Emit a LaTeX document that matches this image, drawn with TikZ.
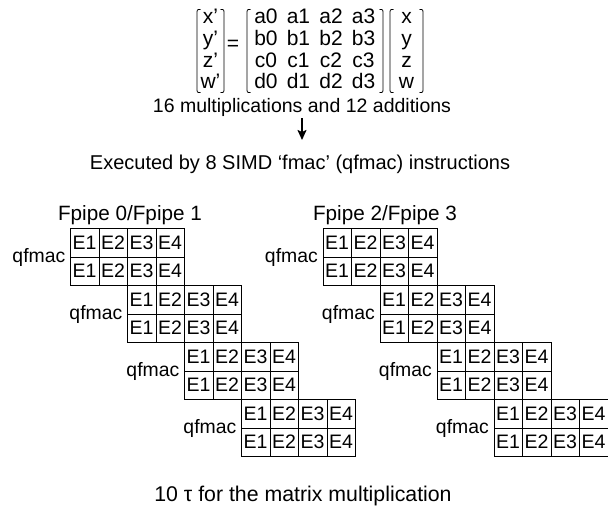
\documentclass[tikz,border=0pt]{standalone}
\usepackage{fontspec}
\setmainfont{Liberation Sans}
\usetikzlibrary{arrows.meta}
\begin{document}
\begin{tikzpicture}[x=1pt,y=-1pt,
  txt/.style={inner sep=0pt,anchor=base,font=\fontsize{19.5}{24}\selectfont},
  exs/.style={inner sep=0pt,anchor=base,font=\fontsize{20}{24}\selectfont},
  bot/.style={inner sep=0pt,anchor=base,font=\fontsize{21.3}{24}\selectfont},
  mtx/.style={inner sep=0pt,anchor=base,font=\fontsize{21}{24}\selectfont},
  fp/.style={inner sep=0pt,anchor=base,font=\fontsize{20.7}{24}\selectfont},
  cell/.style={draw,line width=0.8pt,minimum width=28.5pt,minimum height=28.5pt,inner sep=0pt,anchor=north west,font=\fontsize{19.5}{22}\selectfont},
  lbl/.style={inner sep=0pt,anchor=base east,font=\fontsize{19.4}{22}\selectfont},
  brk/.style={line width=0.8pt},
]
\useasboundingbox (0,0) rectangle (608,508);
% matrix equation
\foreach \r/\a/\p/\q/\s/\t/\b [count=\i] in {23.5/x’/a0/a1/a2/a3/x, 45.4/y’/b0/b1/b2/b3/y, 67.2/z’/c0/c1/c2/c3/z, 89/w’/d0/d1/d2/d3/w}{
  \node[mtx] (v\i) at (210.5,\r) {\a};
  \node[mtx] (m\i a) at (266,\r) {\p};
  \node[mtx] (m\i b) at (298.5,\r) {\q};
  \node[mtx] (m\i c) at (331,\r) {\s};
  \node[mtx] (m\i d) at (363.5,\r) {\t};
  \node[mtx] (u\i) at (406.5,\r) {\b};
}
\node[mtx] (eq) at (233,50.5) {=};
% brackets
\foreach \xl/\xr in {197/224, 247/383, 390/423}{
  \draw[brk] (\xl+3.5,9.5) .. controls (\xl,9.5) .. (\xl,14) -- (\xl,88) .. controls (\xl,92.5) .. (\xl+3.5,92.5);
  \draw[brk] (\xr-3.5,9.5) .. controls (\xr,9.5) .. (\xr,14) -- (\xr,88) .. controls (\xr,92.5) .. (\xr-3.5,92.5);
}
\node[txt] (mult) at (302,113) {16 multiplications and 12 additions};
\node[exs] (exec) at (300,170) {Executed by 8 SIMD ‘fmac’ (qfmac) instructions};
\coordinate (tip) at (302,140);
\draw[line width=1.7pt,-{Stealth[length=10pt,width=9pt,inset=2pt]},shorten <=1pt] (mult.south) -- (tip);
\node[fp] (fp01) at (130,220) {Fpipe 0/Fpipe 1};
\node[fp] (fp23) at (385,220) {Fpipe 2/Fpipe 3};
% pipelines
\foreach \g/\gx in {L/70, R/322.5}{
  \foreach \k in {0,1,2,3}{
    \pgfmathsetmacro{\xo}{\gx+57*\k}
    \pgfmathsetmacro{\yo}{228+57*\k}
    \foreach \rr in {0,1}{
      \foreach \c in {1,2,3,4}{
        \node[cell] (\g-\k-\rr-\c) at ({\xo+28.5*(\c-1)},{\yo+28.5*\rr}) {E\c};
      }
    }
    \node[lbl] (q\g\k) at ({\xo-4.5},{\yo+34.5}) {qfmac};
  }
}
\node[bot] (tau) at (303,501) {10 τ for the matrix multiplication};
\end{tikzpicture}
\end{document}
